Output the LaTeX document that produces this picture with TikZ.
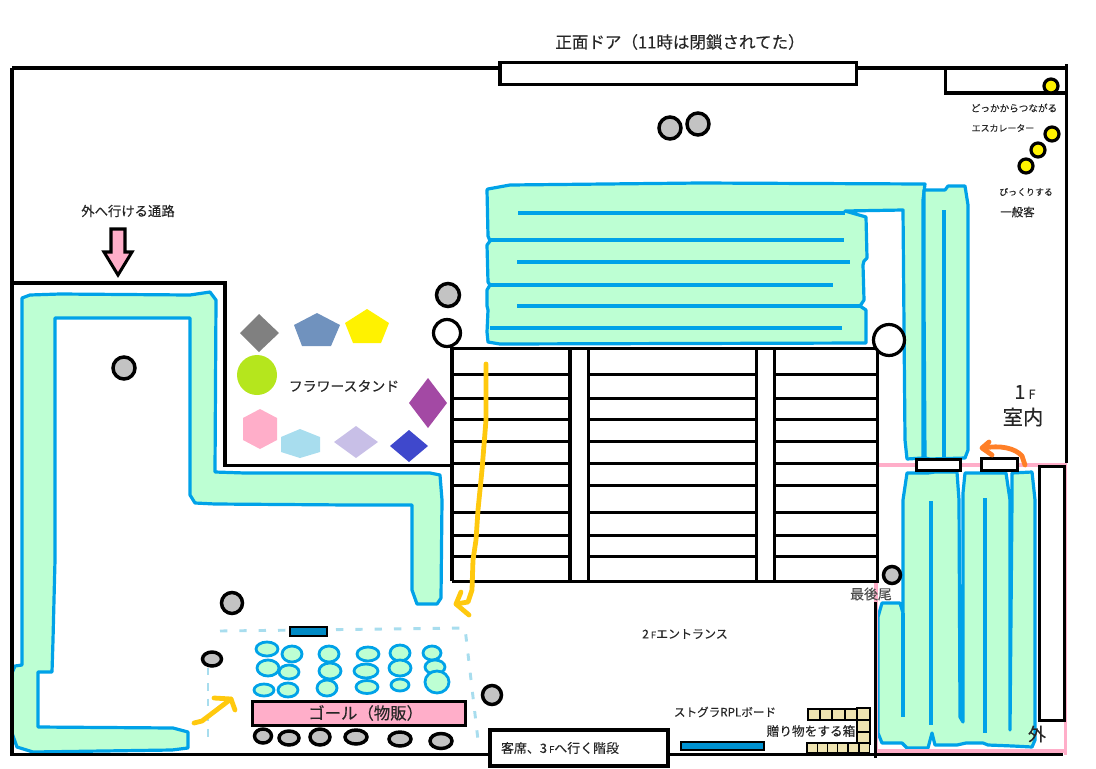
\documentclass[tikz,border=0pt]{standalone}
\usepackage{fontspec}
\setmainfont{Noto Sans CJK JP}[FakeBold=0.25]
\definecolor{qfill}{HTML}{BDFFD3}
\definecolor{qline}{HTML}{00A2E8}
\definecolor{pinkc}{HTML}{FFAEC9}
\definecolor{dashc}{HTML}{A8DDEE}
\definecolor{yel}{HTML}{FFC90E}
\definecolor{org}{HTML}{FF7F27}
\definecolor{boxc}{HTML}{EFE4B0}
\definecolor{greyc}{HTML}{C3C3C3}
\definecolor{fblue}{HTML}{7092BE}
\definecolor{flime}{HTML}{B5E61D}
\definecolor{flilac}{HTML}{C8BFE7}
\definecolor{findigo}{HTML}{3F48CC}
\definecolor{fpurple}{HTML}{A349A4}
\definecolor{fyellow}{HTML}{FFF200}
\tikzset{
  wall/.style={draw=black,line width=2.26pt},
  heavy/.style={draw=black,line width=3.6pt},
  thinwall/.style={draw=black,line width=2.26pt},
  queue/.style={draw=qline,fill=qfill,line width=2.4pt,line join=round},
  qin/.style={draw=qline,line width=2.3pt},
  seat/.style={draw=qline,fill=qfill,line width=2.1pt},
  stone/.style={draw=black,fill=greyc,line width=2.6pt},
  hole/.style={draw=black,fill=white,line width=2.4pt},
  yball/.style={draw=black,fill=fyellow,line width=2.4pt},
  crate/.style={draw=black,fill=boxc,line width=.8pt},
  lab/.style={inner sep=0pt,text=black!85,font=\fontsize{10.5}{12}\selectfont},
  labs/.style={inner sep=0pt,text=black!85,font=\fontsize{7}{9}\selectfont},
  stroke/.style={line width=3.6pt,line cap=round,line join=round}
}
\begin{document}
\begin{tikzpicture}[x=0.75pt,y=-0.75pt]
\useasboundingbox (0,0) rectangle (1096,768);
% queues
\draw[queue] (488,189)--(510,185)--(700,183)--(925,184)--(923,200)--(923,458)--(907,459)--(905,440)--(903,210)--(845,211)--(866,217)--(867,258)--(864,261)--(863,265)--(864,300)--(860,306)--(866,310)--(866,343)--(500,344)--(488,342)--(487,332)--(488,310)--(487,306)--(487,290)--(490,285)--(488,282)--(487,245)--(490,241)--(488,236)--(487,190)--cycle;
\draw[qin] (518,213)--(845,213);
\draw[qin] (490,240)--(844,240);
\draw[qin] (517,262)--(850,262);
\draw[qin] (490,285)--(833,285);
\draw[qin] (517,306)--(860,306);
\draw[line width=3.4pt,qline] (490,328)--(842,328);
\draw[queue] (924,190)--(945,190)--(948,186)--(965,186)--(968,205)--(968,450)--(965,458)--(930,459)--(925,458)--(924,300)--cycle;
\draw[qin] (944,210)--(944,458);
\draw[queue] (878,617)--(882,603)--(900,603)--(903,613)--(903,500)--(907,473)--(928,473)--(935,472)--(957,472)--(959,500)--(960,717)--(963,722)--(963,493)--(965,473)--(983,473)--(988,473)--(1006,473)--(1010,500)--(1010,730)--(1012,500)--(1012,473)--(1032,472)--(1035,500)--(1035,740)--(1032,747)--(1013,746)--(988,745)--(983,743)--(966,743)--(957,745)--(935,745)--(932,733)--(928,748)--(907,748)--(902,743)--(882,743)--(878,733)--cycle;
\draw[qin] (931,501)--(931,725);
\draw[qin] (985,498)--(985,733);
\draw[qin] (903,613)--(903,717);
\draw[queue] (22,298)--(30,295)--(60,294)--(190,295)--(210,292)--(216,300)--(215,472)--(245,473)--(430,473)--(440,475)--(442,500)--(441,598)--(437,604)--(417,604)--(412,590)--(412,505)--(350,505)--(215,504)--(195,503)--(190,495)--(190,318)--(55,318)--(55,560)--(53,640)--(52,672)--(38,672)--(38,727)--(173,728)--(188,732)--(188,748)--(172,750)--(33,752)--(17,747)--(12,733)--(12,673)--(15,666)--(22,665)--(22,600)--cycle;
% pink wall
\draw[pinkc,line width=2.6pt] (877,465)--(1065.5,465)--(1065.5,755);
\draw[pinkc,line width=2.6pt] (876,582)--(876,751)--(1066,751);
% walls
\draw[wall] (12,68)--(499,68);
\node[draw=black,line width=2.26pt,fill=white,minimum width=267pt,minimum height=17pt,inner sep=0pt] (door) at (678,73.5) {};
\draw[wall] (857,68)--(945,68)--(1066,68);
\draw[wall] (945,68)--(945,93)--(1066,93);
\draw[wall] (1066,64)--(1066,463);
\draw[wall] (12,68)--(12,754)--(490,754);
\draw[wall] (12,283)--(225,283)--(225,465)--(452,465);
\draw[wall] (668,754)--(1063,754);
\draw[wall] (875,602)--(875,758);
\draw[heavy,fill=white] (490,730) rectangle (668,766);
\draw[wall,fill=white] (1039,466) rectangle (1064,720);
% stairs
\draw[wall] (452,581)--(452,348)--(877,348)--(877,581)--(452,581);
\foreach \yy in {374,398,419,441,463,485,512,535,556}
  \draw[thinwall] (452,\yy)--(877,\yy);
\draw[wall,fill=white] (570,348) rectangle (588,581);
\draw[wall,fill=white] (756,348) rectangle (774,581);
% door slots
\draw[wall,fill=white] (916,459) rectangle (960,470);
\draw[wall,fill=white] (981,458) rectangle (1017,470);
% round things
\draw[stone] (670,128) circle[radius=11];
\draw[stone] (698,124) circle[radius=11];
\draw[stone] (448,295) circle[radius=11.5];
\draw[hole] (447,333) circle[radius=13.5];
\draw[hole] (889,340) circle[radius=15.5];
\draw[stone] (124,368) circle[radius=11];
\draw[stone] (232,603) circle[radius=10.5];
\draw[stone] (492,695) circle[radius=9.5];
\draw[stone] (892,575) circle[radius=8.5];
\draw[stone] (212,659) ellipse[x radius=9.5,y radius=7];
\foreach \xx/\yy/\rx/\ry in {263/736/8.5/7,289/738/10/7,320/737/10/8,356/737/11/7,400/739/11/7,441/741/11/7.5}
  \draw[stone] (\xx,\yy) ellipse[x radius=\rx,y radius=\ry];
\foreach \xx/\yy in {1051/86,1052/134,1038/150,1026/166}
  \draw[yball] (\xx,\yy) circle[radius=7];
% flower stands
\fill[black!50] (259,314)--(279,333)--(259,352)--(240,333)--cycle;
\fill[fblue] (317,313)--(340,325)--(331,346)--(302,346)--(294,325)--cycle;
\fill[fyellow] (367,309)--(389,323)--(381,343)--(353,343)--(345,323)--cycle;
\fill[flime] (257,375) circle[radius=20];
\fill[pinkc] (260,409)--(277,418)--(277,440)--(260,449)--(243,440)--(243,418)--cycle;
\fill[dashc] (300,429)--(320,437)--(320,452)--(300,458)--(281,452)--(281,437)--cycle;
\fill[flilac] (356,426)--(378,442)--(356,458)--(334,442)--cycle;
\fill[findigo] (409,430)--(428,446)--(409,462)--(390,446)--cycle;
\fill[fpurple] (428,378)--(447,403)--(428,428)--(409,403)--cycle;
% goal area
\draw[dashc,line width=2.2pt,dash pattern=on 5.5pt off 9pt] (220,631)--(465,628)--(478,740);
\draw[dashc,line width=2.2pt,dash pattern=on 5.5pt off 6pt] (208,668)--(208,740);
\draw[draw=black,fill=qline!85!black,line width=1.6pt] (290,627) rectangle (327,636);
\foreach \xx/\yy/\rx/\ry in {267/649/11/7,292/654/10/8,329/654/10/8,368/654/11/7,400/653/10/8,432/653/9/7,268/668/11/8,289/672/10/7,330/671/11/8,366/671/12/7,400/668/11/8,435/667/10/7,264/690/10/6,288/690/10/7,327/688/10/8,367/687/11/6.5,400/685/9/6,437/682/12/11}
  \draw[seat] (\xx,\yy) ellipse[x radius=\rx,y radius=\ry];
\node[draw=black,line width=2.26pt,fill=pinkc,minimum width=160pt,minimum height=18pt,inner sep=0pt,font=\fontsize{12.3}{14}\selectfont,text=black!85] (goal) at (359,713) {\hspace{10pt}ゴール（物販）};
% entrance arrow
\draw[draw=black,fill=pinkc,line width=2.26pt,line join=miter] (111,229)--(125,229)--(125,252)--(132,252)--(118,275)--(104,252)--(111,252)--cycle;
% hand arrows
\draw[yel,stroke] (486,364)--(486,420)--(482,470)--(478,510)--(476,540)--(473,560)--(472,590)--(468,602)--(456,604);
\draw[yel,stroke] (461,592)--(456,604)--(469,615);
\draw[yel,stroke] (194,723)--(202,721)--(231,699);
\draw[yel,stroke] (214,698)--(231,699)--(235,710);
\draw[org,line width=3.6pt,line cap=round,line join=round] (1025,465)--(1022,456) .. controls (1015,448) and (1000,445) .. (984,448);
\draw[org,line width=3.6pt,line cap=round,line join=round] (989,442)--(982,448)--(992,455);
% board and crates
\draw[draw=black,fill=qline!90!black,line width=.9pt] (681,742) rectangle (764,750);
\foreach \xx in {808,820,832,845}
  \draw[crate] (\xx,709) rectangle +(12.2,11);
\foreach \yy in {708,720,732}
  \draw[crate] (857,\yy) rectangle +(13,12);
\foreach \xx in {807,817.5,827.5,837.5,848,859}
  \draw[crate] (\xx,743) rectangle +(10.8,9.5);
% labels
\node[lab,font=\fontsize{12.4}{14}\selectfont] (tdoor) at (680,42) {正面ドア（11時は閉鎖されてた）};
\node[labs,font=\fontsize{7.2}{9}\selectfont] (tesc1) at (1014,108) {どっかからつながる};
\node[labs,font=\fontsize{6.7}{9}\selectfont] (tesc2) at (1003,128) {エスカレーター};
\node[labs,font=\fontsize{6.7}{9}\selectfont] (tpub1) at (1026,192) {びっくりする};
\node[labs,anchor=west,font=\fontsize{8.6}{10}\selectfont] (tpub2) at (1000,212) {一般客};
\node[labs,font=\fontsize{10}{11}\selectfont] (tway) at (128,211) {外へ行ける通路};
\node[lab,font=\fontsize{10.4}{14}\selectfont] (tflower) at (344,386) {フラワースタンド};
\node[lab,font=\fontsize{14.5}{15}\selectfont] (t1f) at (1025,392) {1\,{\fontsize{9.5}{10}\selectfont F}};
\node[lab,font=\fontsize{15.3}{17}\selectfont] (tin) at (1023,417) {室内};
\node[labs,font=\fontsize{10.4}{12}\selectfont,text=black!70] (tlast) at (871,594) {最後尾};
\node[labs,font=\fontsize{9}{11}\selectfont] (t2f) at (685,634) {2\,{\fontsize{7}{8}\selectfont F}エントランス};
\node[labs,font=\fontsize{8.7}{11}\selectfont] (tbrd) at (725,712) {ストグラRPLボード};
\node[labs,font=\fontsize{9.5}{11}\selectfont] (tgift) at (811,731) {贈り物をする箱};
\node[labs,font=\fontsize{9.7}{11}\selectfont] (tseat) at (560,748) {客席、3\,{\fontsize{7}{8}\selectfont F}へ行く階段};
\node[lab,font=\fontsize{13.5}{15}\selectfont] (tout) at (1037,734) {外};
\end{tikzpicture}
\end{document}
